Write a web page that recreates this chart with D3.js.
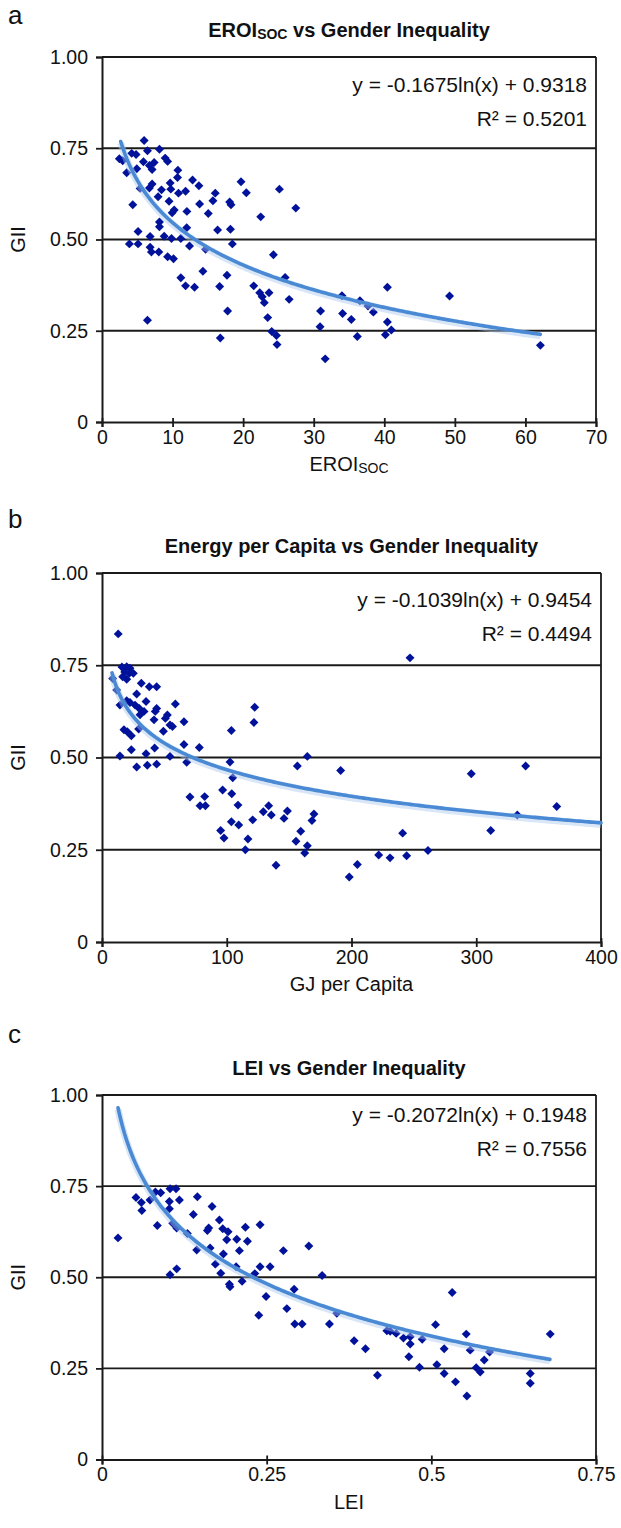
<!DOCTYPE html>
<html>
<head>
<meta charset="utf-8">
<script src="https://cdn.jsdelivr.net/npm/d3@7"></script>
<style>
  body { margin: 0; background: #fff; }
  svg { display: block; font-family: "Liberation Sans", Arial, Helvetica, sans-serif; }
</style>
</head>
<body>
<svg id="chart" width="621" height="1528"></svg>
<script>
// ---- data ----
const eroiX = [5.97, 6.44, 8.14, 4.21, 4.83, 2.46, 2.93, 8.95, 9.3, 5.87, 6.72, 7.39, 7.1, 4.93, 3.5, 10.75, 10.7, 12.83, 19.7, 13.73,
  9.66, 7.1, 6.72, 5.4, 25.14, 20.45, 9.75, 8.43, 11.84, 10.84, 16.05, 7.95, 15.72, 9.5, 18.09, 18.28, 13.83, 4.36, 27.46, 10.23,
  9.94, 12.03, 15.06, 22.49, 8.14, 8.14, 5.11, 12.0, 16.38, 18.2, 6.82, 8.81, 9.85, 11.17, 3.88, 5.11, 12.4, 18.47, 6.82, 7.0,
  8.05, 14.68, 24.29, 9.3, 10.13, 14.3, 17.71, 11.17, 25.95, 11.84, 13.11, 16.67, 21.5, 22.35, 23.67, 22.7, 26.52, 23.0, 34.0,
  6.44, 17.8, 23.48, 30.97, 34.09, 35.33, 30.9, 24.05, 24.72, 16.76, 24.8, 31.63, 36.55, 37.69, 38.45, 36.18, 40.44, 40.44, 41.0,
  40.16, 49.25, 62.12];
const eroiGII = [0.771, 0.743, 0.747, 0.736, 0.733, 0.721, 0.716, 0.723, 0.714, 0.713, 0.703, 0.711, 0.692, 0.694, 0.683, 0.690, 0.670, 0.663, 0.658, 0.647,
  0.655, 0.652, 0.641, 0.640, 0.638, 0.628, 0.638, 0.636, 0.632, 0.627, 0.627, 0.617, 0.606, 0.605, 0.603, 0.595, 0.597, 0.595, 0.586, 0.581,
  0.573, 0.577, 0.571, 0.562, 0.548, 0.535, 0.522, 0.532, 0.526, 0.528, 0.508, 0.509, 0.503, 0.503, 0.488, 0.488, 0.482, 0.488, 0.479, 0.466,
  0.466, 0.473, 0.458, 0.453, 0.447, 0.413, 0.402, 0.395, 0.396, 0.373, 0.369, 0.371, 0.373, 0.354, 0.354, 0.343, 0.336, 0.327, 0.346,
  0.279, 0.304, 0.286, 0.304, 0.297, 0.281, 0.261, 0.248, 0.237, 0.230, 0.212, 0.173, 0.332, 0.318, 0.301, 0.234, 0.369, 0.274, 0.252,
  0.239, 0.345, 0.210];

const energyX = [16.0, 19.8, 22.4, 18.2, 21.9, 25.1, 16.6, 19.8, 8.55, 11.8, 31.5, 37.9, 43.8, 27.8, 19.8, 22.4, 35.3, 14.4, 26.5, 58.8,
  29.9, 33.7, 43.8, 42.7, 30.5, 52.4, 50.8, 41.7, 65.7, 54.5, 56.5, 122.4, 121.8, 17.6, 20.3, 23.5, 29.4, 49.2, 103.7, 65.7,
  42.2, 78.0, 23.5, 35.3, 14.4, 54.5, 164.6, 102.6, 67.9, 36.3, 43.8, 27.8, 156.6, 191.3, 104.8, 96.7, 104.0, 70.5, 82.3, 109.0,
  78.6, 82.9, 133.6, 129.3, 135.7, 148.6, 145.9, 169.9, 168.3, 120.8, 103.7, 109.6, 95.1, 97.8, 159.3, 117.0, 155.5, 164.6, 114.9, 162.5,
  139.5, 246.9, 296.0, 339.6, 364.5, 332.9, 311.6, 241.0, 261.3, 221.8, 230.9, 244.2, 204.7, 198.2, 13.0];
const energyGII = [0.745, 0.746, 0.742, 0.732, 0.728, 0.728, 0.719, 0.712, 0.714, 0.683, 0.701, 0.692, 0.692, 0.672, 0.654, 0.649, 0.652, 0.642, 0.642, 0.645,
  0.633, 0.625, 0.633, 0.625, 0.616, 0.615, 0.606, 0.602, 0.597, 0.588, 0.584, 0.636, 0.595, 0.575, 0.570, 0.559, 0.577, 0.571, 0.573, 0.535,
  0.526, 0.527, 0.521, 0.510, 0.504, 0.503, 0.503, 0.488, 0.487, 0.479, 0.482, 0.474, 0.477, 0.465, 0.445, 0.412, 0.402, 0.393, 0.394, 0.371,
  0.369, 0.369, 0.369, 0.353, 0.344, 0.355, 0.335, 0.347, 0.329, 0.331, 0.326, 0.317, 0.302, 0.282, 0.300, 0.279, 0.273, 0.261, 0.250, 0.241,
  0.208, 0.770, 0.456, 0.477, 0.367, 0.344, 0.302, 0.295, 0.248, 0.236, 0.228, 0.234, 0.210, 0.176, 0.835];

const leiX = [0.0243, 0.0516, 0.0597, 0.0605, 0.0729, 0.081, 0.0891, 0.1033, 0.1124, 0.1023, 0.1175, 0.1023, 0.1448, 0.084, 0.1074, 0.1134, 0.1296, 0.1387, 0.1671, 0.1782,
  0.162, 0.16, 0.1833, 0.1914, 0.2177, 0.24, 0.2046, 0.1894, 0.2208, 0.1438, 0.1641, 0.2086, 0.1843, 0.2754, 0.314, 0.1721, 0.2036, 0.24, 0.2552, 0.1033,
  0.1134, 0.1803, 0.232, 0.3342, 0.1934, 0.1944, 0.2127, 0.2491, 0.2917, 0.238, 0.2806, 0.2927, 0.3038, 0.3453, 0.3565,
  0.5317, 0.5064, 0.553, 0.6805, 0.4325, 0.4375, 0.4466, 0.4577, 0.4679, 0.4679, 0.4861, 0.5195, 0.559, 0.5884, 0.3828, 0.4,
  0.4659, 0.5803, 0.482, 0.5084, 0.5681, 0.5742, 0.5195, 0.4182, 0.5367, 0.6502, 0.6502, 0.554];
const leiGII = [0.608, 0.719, 0.705, 0.683, 0.712, 0.734, 0.732, 0.743, 0.743, 0.708, 0.712, 0.688, 0.721, 0.642, 0.648, 0.635, 0.620, 0.672, 0.694, 0.657,
  0.635, 0.628, 0.633, 0.625, 0.637, 0.644, 0.604, 0.603, 0.599, 0.575, 0.580, 0.573, 0.564, 0.573, 0.586, 0.536, 0.529, 0.529, 0.529, 0.507,
  0.523, 0.511, 0.510, 0.505, 0.481, 0.474, 0.489, 0.447, 0.467, 0.396, 0.414, 0.372, 0.372, 0.372, 0.401,
  0.458, 0.370, 0.344, 0.344, 0.353, 0.352, 0.346, 0.333, 0.337, 0.317, 0.330, 0.304, 0.300, 0.295, 0.326, 0.304,
  0.282, 0.273, 0.253, 0.260, 0.252, 0.240, 0.236, 0.231, 0.213, 0.236, 0.209, 0.174];

// log fits y = a*ln(x) + b, as printed on the figure
const fitA = [-0.1675, -0.1039, -0.2072];
const fitB = [0.9318, 0.9454, 0.1948];
const fitR2 = ["0.5201", "0.4494", "0.7556"];
const fitRange = [[2.65, 62.1], [8, 400], [0.0243, 0.68]];

const giiTicks = [0, 0.25, 0.5, 0.75, 1];
const eroiTicks = [0, 10, 20, 30, 40, 50, 60, 70];
const energyTicks = [0, 100, 200, 300, 400];
const leiTicks = [0, 0.25, 0.5, 0.75];

const panels = [
  { letter: "a", x: eroiX, y: eroiGII, xMax: 70, xTicks: eroiTicks, xFmt: d => d,
    box: { l: 102, r: 596, t: 57, b: 422 }, eqDy: 35, letterY: 24, sub: true,
    title: ["EROI", "SOC", " vs Gender Inequality"], xLabel: ["EROI", "SOC"] },
  { letter: "b", x: energyX, y: energyGII, xMax: 400, xTicks: energyTicks, xFmt: d => d,
    box: { l: 102, r: 601, t: 573, b: 942 }, eqDy: 34, letterY: 528,
    title: ["Energy per Capita vs Gender Inequality"], xLabel: ["GJ per Capita"] },
  { letter: "c", x: leiX, y: leiGII, xMax: 0.75, xTicks: leiTicks, xFmt: d => d === 0 ? "0" : String(d),
    box: { l: 102, r: 596, t: 1095, b: 1459.5 }, eqDy: 27, letterY: 1043,
    title: ["LEI vs Gender Inequality"], xLabel: ["LEI"] }
];

const svg = d3.select("#chart");
svg.append("rect").attr("width", 621).attr("height", 1528).attr("fill", "#fff");

panels.forEach((p, i) => {
  const bx = p.box;
  const xScale = d3.scaleLinear().domain([0, p.xMax]).range([bx.l, bx.r]);
  const yScale = d3.scaleLinear().domain([0, 1]).range([bx.b, bx.t]);
  const g = svg.append("g");

  // horizontal grid lines
  g.selectAll(".grid").data(giiTicks.filter(d => d > 0)).enter()
    .append("line")
    .attr("x1", bx.l).attr("x2", bx.r)
    .attr("y1", d => yScale(d)).attr("y2", d => yScale(d))
    .attr("stroke", "#1a1a1a").attr("stroke-width", 1.8);

  // right border
  g.append("line").attr("x1", bx.r).attr("x2", bx.r).attr("y1", bx.t).attr("y2", bx.b)
    .attr("stroke", "#1a1a1a").attr("stroke-width", 1.8);

  // axes
  const yAxis = g.append("g").attr("transform", `translate(${bx.l},0)`)
    .call(d3.axisLeft(yScale).tickValues(giiTicks).tickSize(6).tickPadding(8)
      .tickFormat(d => d === 0 ? "0" : d3.format(".2f")(d)));
  const xAxis = g.append("g").attr("transform", `translate(0,${bx.b})`)
    .call(d3.axisBottom(xScale).tickValues(p.xTicks).tickSize(5).tickPadding(3).tickFormat(p.xFmt));
  [xAxis, yAxis].forEach(ax => {
    ax.select(".domain").attr("stroke", "#1a1a1a").attr("stroke-width", 2);
    ax.selectAll(".tick line").attr("stroke", "#1a1a1a").attr("stroke-width", 1.8);
    ax.selectAll(".tick text").attr("fill", "#111").attr("font-size", 19.5)
      .attr("font-family", "Liberation Sans, Arial, sans-serif");
  });
  xAxis.selectAll(".tick line").attr("y1", -4);

  // markers
  g.selectAll(".pt").data(p.x.map((v, k) => [v, p.y[k]])).enter()
    .append("path")
    .attr("d", d3.symbol(d3.symbolSquare, 40)())
    .attr("transform", d => `translate(${xScale(d[0])},${yScale(d[1])}) rotate(45)`)
    .attr("fill", "#00129a");

  // trend line
  const fx = d3.range(0, 201).map(k => fitRange[i][0] + (fitRange[i][1] - fitRange[i][0]) * k / 200);
  const fit = fx.map(x => [x, fitA[i] * Math.log(x) + fitB[i]]);
  const line = d3.line().x(d => xScale(d[0])).y(d => yScale(d[1])).curve(d3.curveLinear);
  g.append("path").datum(fit).attr("d", line).attr("fill", "none")
    .attr("stroke", "#a9c8ee").attr("stroke-width", 7).attr("stroke-opacity", 0.45)
    .attr("transform", "translate(0,1.5)");
  g.append("path").datum(fit).attr("d", line).attr("fill", "none")
    .attr("stroke", "#4a8ad4").attr("stroke-width", 3.6).attr("stroke-linecap", "round");

  // equation text
  const eq = `y = ${fitA[i].toFixed(4)}ln(x) + ${fitB[i].toFixed(4)}`;
  g.append("text").attr("x", bx.r - 9).attr("y", bx.t + p.eqDy)
    .attr("text-anchor", "end").attr("font-size", 21).attr("fill", "#111").text(eq);
  g.append("text").attr("x", bx.r - 9).attr("y", bx.t + p.eqDy + 34)
    .attr("text-anchor", "end").attr("font-size", 21).attr("fill", "#111").text(`R² = ${fitR2[i]}`);

  // title
  const title = g.append("text").attr("x", (bx.l + bx.r) / 2).attr("y", bx.t - 20)
    .attr("text-anchor", "middle").attr("font-size", 20).attr("font-weight", "bold").attr("fill", "#111");
  if (p.sub) {
    title.append("tspan").text(p.title[0]);
    title.append("tspan").attr("font-size", 14).attr("dy", 2).text(p.title[1]);
    title.append("tspan").attr("dy", -2).text(p.title[2]);
  } else {
    title.text(p.title[0]);
  }

  // x label
  const xl = g.append("text").attr("x", (bx.l + bx.r) / 2).attr("y", bx.b + 49)
    .attr("text-anchor", "middle").attr("font-size", 20).attr("fill", "#111");
  xl.append("tspan").text(p.xLabel[0]);
  if (p.xLabel[1]) xl.append("tspan").attr("font-size", 14).attr("dy", 2).text(p.xLabel[1]);

  // y label
  g.append("text").attr("transform", `translate(25,${(bx.t + bx.b) / 2}) rotate(-90)`)
    .attr("text-anchor", "middle").attr("font-size", 20).attr("fill", "#111").text("GII");

  // panel letter
  g.append("text").attr("x", 8).attr("y", p.letterY).attr("font-size", 26).attr("fill", "#111").text(p.letter);
});
</script>
</body>
</html>
